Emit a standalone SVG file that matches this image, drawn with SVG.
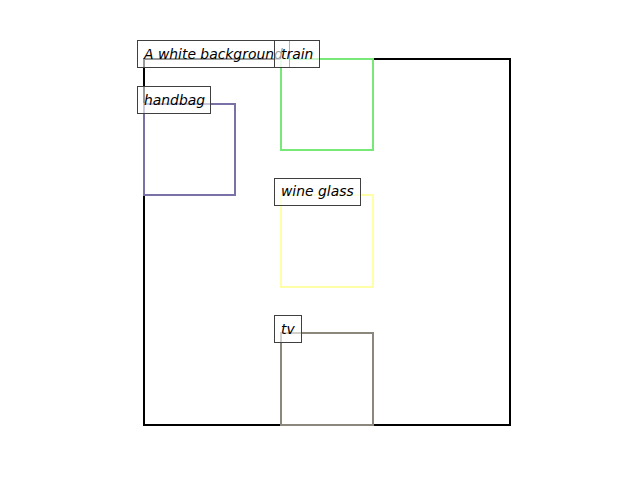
<svg xmlns="http://www.w3.org/2000/svg" width="640" height="480" viewBox="0 0 640 480">
<style>
.box{fill:none;stroke-width:2}
.lbl rect{fill:#fff;fill-opacity:0.6;stroke:#3f3f3f;stroke-width:1}
.lbl text{font-family:"DejaVu Sans",sans-serif;font-style:oblique;font-size:13.9px;fill:#000}
</style>
<rect width="640" height="480" fill="#fff"/>
<g id="background"><rect class="box" x="144" y="59" width="366" height="366" stroke="#000"/></g>
<g id="handbag"><rect class="box" x="144" y="104" width="91" height="91" stroke="#7a72a6"/></g>
<g id="train"><rect class="box" x="281" y="59" width="92" height="91" stroke="#78e878"/></g>
<g id="wineglass"><rect class="box" x="281" y="195" width="92" height="92" stroke="#ffffa8"/></g>
<g id="tv"><rect class="box" x="281" y="333" width="92" height="92" stroke="#8c877c"/></g>
<g id="connectors"></g>
<g class="lbl" id="label-bg"><rect x="137.5" y="40.5" width="152" height="27"/><text x="144" y="58.5">A white background</text></g>
<g class="lbl" id="label-handbag"><rect x="137.5" y="86.5" width="73" height="27"/><text x="144" y="104.5">handbag</text></g>
<g class="lbl" id="label-train"><rect x="274.5" y="40.5" width="45" height="27"/><text x="281" y="58.5">train</text></g>
<g class="lbl" id="label-wine"><rect x="274.5" y="178.5" width="86" height="27"/><text x="281" y="196">wine glass</text></g>
<g class="lbl" id="label-tv"><rect x="274.5" y="315.5" width="27" height="27"/><text x="281" y="333.5">tv</text></g>
</svg>
